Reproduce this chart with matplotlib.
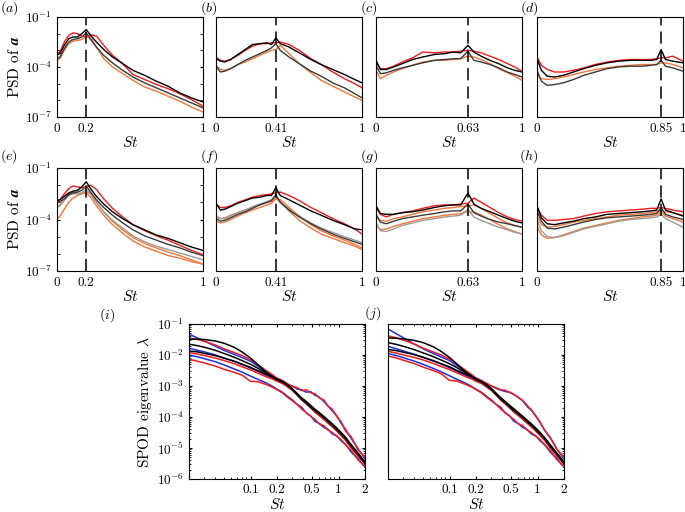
import numpy as np
import matplotlib
matplotlib.use("Agg")
import matplotlib.pyplot as plt
from matplotlib.ticker import LogLocator, FixedLocator, NullFormatter

plt.rcParams['font.family'] = 'serif'
plt.rcParams['font.serif'] = ['cmr10']
plt.rcParams['mathtext.fontset'] = 'cm'
plt.rcParams['axes.unicode_minus'] = False
plt.rcParams['axes.formatter.use_mathtext'] = True

# ---------------- data (log10 of PSD) ----------------
peaks = [0.2, 0.41, 0.63, 0.85, 0.2, 0.41, 0.63, 0.85]
letters = ['a', 'b', 'c', 'd', 'e', 'f', 'g', 'h']

st_a = [0, 0.02, 0.05, 0.08, 0.11, 0.14, 0.17, 0.2, 0.23, 0.27, 0.32, 0.38, 0.45, 0.52, 0.6, 0.68, 0.76, 0.84, 0.92, 1.0]
a_red = [-3.17, -3.1, -2.5, -2.1, -1.95, -2.0, -2.15, -2.2, -2.05, -2.15, -2.7, -3.3, -3.8, -4.45, -4.75, -5.05, -5.3, -5.6, -5.95, -6.35]
a_black = [-3.27, -3.2, -2.7, -2.3, -2.2, -2.2, -2.0, -1.75, -2.1, -2.5, -2.95, -3.4, -3.8, -4.2, -4.5, -4.85, -5.15, -5.55, -5.85, -6.1]
a_dgray = [-3.5, -3.4, -2.9, -2.5, -2.35, -2.3, -2.2, -1.95, -2.35, -2.8, -3.3, -3.75, -4.2, -4.6, -4.95, -5.25, -5.55, -5.85, -6.15, -6.45]
a_orange = [-3.6, -3.5, -3.0, -2.6, -2.45, -2.4, -2.35, -2.2, -2.2, -2.8, -3.5, -4.0, -4.4, -4.8, -5.2, -5.45, -5.75, -6.05, -6.4, -6.7]

st_b = [0, 0.03, 0.06, 0.1, 0.15, 0.2, 0.25, 0.3, 0.35, 0.38, 0.41, 0.44, 0.5, 0.57, 0.65, 0.72, 0.8, 0.88, 0.95, 1.0]
b_red = [-3.41, -3.6, -3.65, -3.55, -3.3, -3.0, -2.75, -2.6, -2.6, -2.55, -2.55, -2.5, -2.65, -3.0, -3.5, -3.85, -4.3, -4.7, -5.0, -5.25]
b_black = [-3.5, -3.65, -3.7, -3.55, -3.25, -2.95, -2.65, -2.6, -2.55, -2.65, -2.25, -2.6, -2.8, -3.15, -3.55, -3.85, -4.15, -4.45, -4.75, -4.95]
b_dgray = [-3.95, -4.3, -4.25, -4.1, -3.85, -3.6, -3.4, -3.2, -3.0, -2.85, -2.6, -3.0, -3.4, -3.8, -4.25, -4.55, -4.95, -5.25, -5.6, -5.85]
b_orange = [-3.95, -4.15, -4.2, -4.1, -3.85, -3.7, -3.5, -3.3, -3.1, -3.0, -2.95, -2.7, -3.2, -3.8, -4.35, -4.8, -5.15, -5.5, -5.8, -6.0]

st_c = [0, 0.03, 0.07, 0.12, 0.18, 0.25, 0.32, 0.4, 0.47, 0.53, 0.58, 0.63, 0.67, 0.72, 0.78, 0.84, 0.9, 0.95, 1.0]
c_red = [-3.7, -4.1, -4.1, -3.95, -3.7, -3.45, -3.1, -3.15, -3.1, -3.1, -3.05, -3.0, -3.05, -3.15, -3.35, -3.55, -3.8, -4.0, -4.25]
c_black = [-3.6, -4.15, -4.15, -4.0, -3.8, -3.55, -3.4, -3.25, -3.2, -3.1, -3.15, -2.7, -3.1, -3.35, -3.6, -3.8, -4.05, -4.2, -4.3]
c_dgray = [-3.9, -4.4, -4.35, -4.2, -4.05, -3.9, -3.75, -3.6, -3.55, -3.5, -3.5, -3.05, -3.6, -3.7, -3.85, -4.05, -4.3, -4.45, -4.6]
c_orange = [-4.2, -4.7, -4.5, -4.3, -4.1, -3.9, -3.7, -3.6, -3.6, -3.55, -3.5, -3.35, -3.4, -3.55, -3.8, -4.1, -4.35, -4.55, -4.8]

st_d = [0, 0.03, 0.07, 0.12, 0.18, 0.25, 0.32, 0.4, 0.48, 0.56, 0.64, 0.72, 0.78, 0.82, 0.85, 0.88, 0.93, 1.0]
d_red = [-3.4, -3.9, -4.15, -4.3, -4.3, -4.2, -4.05, -3.85, -3.7, -3.6, -3.55, -3.55, -3.55, -3.5, -3.45, -3.45, -3.35, -3.65]
d_black = [-3.5, -4.2, -4.55, -4.6, -4.5, -4.3, -4.1, -3.9, -3.75, -3.65, -3.6, -3.6, -3.6, -3.55, -2.95, -3.55, -3.65, -3.75]
d_dgray = [-4.2, -4.85, -5.1, -5.05, -4.95, -4.75, -4.5, -4.3, -4.1, -4.0, -3.95, -3.95, -3.9, -3.85, -3.6, -3.95, -4.05, -4.25]
d_orange = [-4.5, -4.7, -4.75, -4.7, -4.6, -4.45, -4.3, -4.15, -4.05, -3.95, -3.9, -3.85, -3.85, -3.85, -3.75, -3.75, -3.85, -4.05]

e_red = [-2.92, -2.85, -2.5, -2.2, -2.05, -2.1, -2.15, -2.1, -2.0, -2.25, -2.8, -3.35, -3.85, -4.3, -4.65, -4.95, -5.2, -5.5, -5.8, -6.05]
e_black = [-2.88, -2.85, -2.65, -2.45, -2.35, -2.3, -2.1, -1.8, -2.2, -2.65, -3.1, -3.55, -3.95, -4.3, -4.6, -4.9, -5.1, -5.35, -5.6, -5.8]
e_dgray = [-3.0, -2.95, -2.8, -2.55, -2.45, -2.4, -2.3, -2.05, -2.4, -2.85, -3.3, -3.75, -4.2, -4.6, -4.95, -5.2, -5.45, -5.65, -5.9, -6.1]
e_gray = [-3.3, -3.2, -2.9, -2.6, -2.5, -2.5, -2.45, -2.25, -2.5, -3.0, -3.55, -4.05, -4.5, -4.95, -5.3, -5.55, -5.75, -5.95, -6.15, -6.35]
e_orange1 = [-3.3, -3.15, -2.8, -2.5, -2.4, -2.45, -2.5, -2.4, -2.5, -3.0, -3.55, -4.1, -4.6, -5.05, -5.4, -5.65, -5.9, -6.1, -6.35, -6.6]
e_orange2 = [-3.97, -3.8, -3.4, -3.0, -2.75, -2.6, -2.5, -2.45, -2.7, -3.2, -3.75, -4.3, -4.8, -5.25, -5.6, -5.85, -6.1, -6.25, -6.45, -6.6]

f_red = [-3.13, -3.3, -3.3, -3.2, -3.0, -2.85, -2.7, -2.6, -2.55, -2.5, -2.45, -2.4, -2.6, -2.9, -3.3, -3.6, -3.95, -4.25, -4.55, -4.85]
f_black = [-3.05, -3.45, -3.4, -3.25, -3.05, -2.9, -2.75, -2.7, -2.6, -2.6, -2.15, -2.6, -2.85, -3.15, -3.5, -3.75, -4.05, -4.3, -4.55, -4.6]
f_dgray = [-3.95, -4.1, -4.05, -3.9, -3.7, -3.55, -3.35, -3.15, -3.0, -2.9, -2.55, -3.0, -3.45, -3.85, -4.25, -4.55, -4.85, -5.1, -5.3, -5.45]
f_gray = [-3.85, -3.95, -3.95, -3.8, -3.6, -3.45, -3.25, -3.1, -2.95, -2.85, -2.65, -3.0, -3.4, -3.8, -4.2, -4.5, -4.75, -5.0, -5.2, -5.35]
f_orange1 = [-3.8, -3.95, -3.9, -3.75, -3.6, -3.45, -3.3, -3.15, -3.0, -2.95, -2.75, -2.85, -3.3, -3.8, -4.3, -4.65, -4.95, -5.2, -5.45, -5.65]
f_orange2 = [-4.1, -4.2, -4.15, -4.0, -3.8, -3.6, -3.45, -3.3, -3.15, -3.05, -2.8, -2.95, -3.5, -4.05, -4.5, -4.85, -5.1, -5.35, -5.55, -5.75]

g_red = [-3.3, -3.7, -3.85, -3.7, -3.6, -3.5, -3.35, -3.2, -3.15, -3.15, -3.1, -3.05, -2.75, -3.0, -3.3, -3.6, -3.85, -4.0, -4.1]
g_black = [-3.2, -3.65, -3.7, -3.7, -3.6, -3.55, -3.45, -3.3, -3.2, -3.15, -3.15, -2.45, -3.1, -3.35, -3.55, -3.75, -3.95, -4.1, -4.2]
g_dgray = [-3.7, -4.15, -4.25, -4.1, -3.95, -3.85, -3.75, -3.65, -3.55, -3.5, -3.5, -3.1, -3.6, -3.8, -4.0, -4.15, -4.25, -4.35, -4.45]
g_gray = [-4.2, -4.65, -4.7, -4.55, -4.35, -4.2, -4.05, -3.95, -3.85, -3.8, -3.75, -3.4, -3.85, -4.05, -4.25, -4.45, -4.6, -4.75, -4.85]
g_orange1 = [-3.8, -4.05, -4.1, -3.95, -3.85, -3.7, -3.55, -3.45, -3.35, -3.3, -3.25, -3.2, -3.15, -3.35, -3.65, -3.95, -4.2, -4.35, -4.45]
g_orange2 = [-4.3, -4.6, -4.55, -4.4, -4.25, -4.1, -3.95, -3.85, -3.75, -3.7, -3.65, -3.55, -3.55, -3.75, -4.0, -4.3, -4.55, -4.7, -4.85]

h_red = [-3.3, -3.75, -4.05, -4.05, -4.0, -3.95, -3.8, -3.65, -3.55, -3.5, -3.45, -3.4, -3.35, -3.35, -3.3, -3.35, -3.45, -3.55]
h_black = [-3.2, -3.9, -4.25, -4.3, -4.2, -4.1, -3.95, -3.85, -3.7, -3.65, -3.6, -3.55, -3.5, -3.45, -2.8, -3.45, -3.6, -3.8]
h_dgray = [-3.5, -4.1, -4.5, -4.55, -4.45, -4.3, -4.15, -4.0, -3.9, -3.85, -3.8, -3.75, -3.7, -3.65, -3.3, -3.7, -3.85, -4.0]
h_gray = [-4.0, -4.65, -5.0, -5.05, -4.95, -4.75, -4.55, -4.4, -4.25, -4.1, -4.0, -3.95, -3.9, -3.85, -3.7, -3.95, -4.15, -4.45]
h_orange1 = [-3.8, -4.3, -4.45, -4.4, -4.3, -4.15, -4.05, -3.95, -3.85, -3.75, -3.7, -3.65, -3.6, -3.55, -3.5, -3.55, -3.6, -3.75]
h_orange2 = [-4.4, -4.9, -5.1, -5.05, -4.9, -4.7, -4.5, -4.35, -4.2, -4.05, -3.95, -3.85, -3.8, -3.75, -3.55, -3.8, -3.95, -4.15]

# ---------------- SPOD eigenvalues (log10) ----------------
st_s = [0.02, 0.025, 0.03, 0.04, 0.05, 0.065, 0.08, 0.1, 0.12, 0.15, 0.18, 0.2, 0.23, 0.26, 0.3,
        0.34, 0.38, 0.43, 0.48, 0.54, 0.6, 0.68, 0.76, 0.85, 0.95, 1.07, 1.2, 1.4, 1.65, 2.0]
i_blue1 = [-1.33, -1.45, -1.55, -1.72, -1.85, -1.98, -2.08, -2.2, -2.35, -2.55, -2.7, -2.78, -2.85, -2.95, -3.0,
           -3.1, -3.12, -3.2, -3.18, -3.3, -3.35, -3.5, -3.65, -3.8, -3.95, -4.2, -4.4, -4.7, -5.0, -5.35]
i_red1 = [-1.45, -1.5, -1.56, -1.68, -1.8, -1.92, -2.02, -2.15, -2.3, -2.5, -2.65, -2.75, -2.82, -2.92, -3.02,
          -3.05, -3.15, -3.12, -3.22, -3.25, -3.38, -3.45, -3.65, -3.75, -3.98, -4.15, -4.45, -4.65, -5.05, -5.3]
i_black1 = [-1.49, -1.49, -1.5, -1.55, -1.62, -1.75, -1.9, -2.1, -2.3, -2.55, -2.72, -2.8, -2.88, -2.95, -3.1,
            -3.25, -3.38, -3.5, -3.62, -3.75, -3.85, -3.98, -4.1, -4.22, -4.35, -4.5, -4.65, -4.9, -5.15, -5.45]
i_black2 = [-1.65, -1.7, -1.75, -1.85, -1.95, -2.07, -2.18, -2.3, -2.42, -2.58, -2.7, -2.78, -2.85, -2.95, -3.1,
            -3.25, -3.4, -3.52, -3.65, -3.78, -3.88, -4.0, -4.12, -4.25, -4.38, -4.52, -4.68, -4.92, -5.18, -5.48]
i_black3 = [-1.87, -1.9, -1.95, -2.02, -2.1, -2.2, -2.3, -2.4, -2.5, -2.62, -2.72, -2.78, -2.85, -2.97, -3.12,
            -3.28, -3.42, -3.55, -3.68, -3.8, -3.9, -4.02, -4.15, -4.27, -4.4, -4.55, -4.7, -4.95, -5.2, -5.5]
i_blue2 = [-1.78, -1.85, -1.9, -2.0, -2.1, -2.2, -2.3, -2.42, -2.52, -2.65, -2.75, -2.82, -2.9, -3.0, -3.12,
           -3.28, -3.42, -3.55, -3.68, -3.82, -3.92, -4.05, -4.18, -4.3, -4.42, -4.58, -4.72, -4.98, -5.22, -5.52]
i_red2 = [-1.92, -1.97, -2.02, -2.1, -2.18, -2.28, -2.38, -2.48, -2.58, -2.7, -2.78, -2.85, -2.92, -3.02, -3.15,
          -3.3, -3.45, -3.58, -3.7, -3.85, -3.95, -4.08, -4.2, -4.32, -4.45, -4.6, -4.75, -5.0, -5.25, -5.5]
i_blue3 = [-2.0, -2.06, -2.12, -2.22, -2.32, -2.45, -2.55, -2.68, -2.78, -2.9, -3.02, -3.1, -3.2, -3.32, -3.45,
           -3.6, -3.68, -3.87, -3.96, -4.14, -4.2, -4.34, -4.4, -4.55, -4.6, -4.77, -4.88, -5.14, -5.33, -5.62]
i_red3 = [-2.14, -2.2, -2.26, -2.36, -2.46, -2.56, -2.65, -2.85, -2.86, -2.95, -3.05, -3.12, -3.22, -3.35, -3.48,
          -3.6, -3.74, -3.86, -3.97, -4.08, -4.22, -4.28, -4.42, -4.5, -4.62, -4.73, -4.9, -5.08, -5.37, -5.6]

j_blue1 = [-1.16, -1.32, -1.45, -1.65, -1.8, -1.95, -2.06, -2.18, -2.33, -2.53, -2.68, -2.77, -2.84, -2.94, -3.0,
           -3.08, -3.13, -3.18, -3.2, -3.28, -3.36, -3.48, -3.66, -3.78, -3.96, -4.18, -4.42, -4.68, -5.02, -5.35]
j_red1 = [-1.38, -1.45, -1.52, -1.65, -1.78, -1.9, -2.0, -2.13, -2.28, -2.48, -2.64, -2.74, -2.82, -2.9, -3.0,
          -3.06, -3.12, -3.14, -3.2, -3.27, -3.36, -3.47, -3.62, -3.77, -3.95, -4.17, -4.42, -4.67, -5.03, -5.3]
j_black1 = [-1.45, -1.46, -1.48, -1.53, -1.6, -1.73, -1.88, -2.08, -2.28, -2.53, -2.7, -2.79, -2.87, -2.95, -3.08,
            -3.24, -3.37, -3.5, -3.62, -3.74, -3.85, -3.98, -4.1, -4.22, -4.35, -4.5, -4.66, -4.9, -5.15, -5.45]
j_black2 = [-1.6, -1.66, -1.72, -1.83, -1.93, -2.05, -2.16, -2.28, -2.4, -2.56, -2.69, -2.77, -2.85, -2.95, -3.1,
            -3.25, -3.4, -3.52, -3.65, -3.78, -3.88, -4.0, -4.12, -4.25, -4.38, -4.52, -4.68, -4.92, -5.18, -5.48]
j_black3 = [-1.82, -1.86, -1.91, -1.99, -2.07, -2.18, -2.28, -2.38, -2.49, -2.61, -2.71, -2.78, -2.86, -2.98, -3.12,
            -3.28, -3.42, -3.55, -3.68, -3.8, -3.9, -4.02, -4.15, -4.27, -4.4, -4.55, -4.7, -4.95, -5.2, -5.5]
j_blue2 = [-1.72, -1.8, -1.87, -1.98, -2.08, -2.19, -2.29, -2.41, -2.52, -2.65, -2.75, -2.82, -2.9, -3.0, -3.12,
           -3.28, -3.42, -3.55, -3.68, -3.82, -3.92, -4.05, -4.18, -4.3, -4.42, -4.58, -4.72, -4.98, -5.22, -5.52]
j_red2 = [-1.88, -1.94, -2.0, -2.08, -2.16, -2.27, -2.37, -2.47, -2.57, -2.69, -2.78, -2.85, -2.92, -3.02, -3.15,
          -3.3, -3.45, -3.58, -3.7, -3.85, -3.95, -4.08, -4.2, -4.32, -4.45, -4.6, -4.75, -5.0, -5.25, -5.5]
j_blue3 = [-1.95, -2.02, -2.09, -2.2, -2.3, -2.43, -2.54, -2.67, -2.78, -2.9, -3.02, -3.1, -3.2, -3.32, -3.45,
           -3.6, -3.68, -3.87, -3.96, -4.14, -4.2, -4.34, -4.4, -4.55, -4.6, -4.77, -4.88, -5.14, -5.33, -5.62]
j_red3 = [-2.03, -2.1, -2.17, -2.28, -2.39, -2.5, -2.6, -2.82, -2.84, -2.94, -3.04, -3.12, -3.22, -3.35, -3.48,
          -3.6, -3.74, -3.86, -3.97, -4.08, -4.22, -4.28, -4.42, -4.5, -4.62, -4.73, -4.9, -5.08, -5.37, -5.6]

RED = '#f21c1c'
BLACK = '#000000'
DGRAY = '#3a3a3a'
GRAY = '#9a9a9a'
ORANGE = '#f5773a'
BLUE = '#1f2ff0'

top_sets = [
    (st_a, [(a_orange, ORANGE), (a_dgray, DGRAY), (a_red, RED), (a_black, BLACK)]),
    (st_b, [(b_orange, ORANGE), (b_dgray, DGRAY), (b_red, RED), (b_black, BLACK)]),
    (st_c, [(c_orange, ORANGE), (c_dgray, DGRAY), (c_red, RED), (c_black, BLACK)]),
    (st_d, [(d_orange, ORANGE), (d_dgray, DGRAY), (d_red, RED), (d_black, BLACK)]),
    (st_a, [(e_orange2, ORANGE), (e_orange1, ORANGE), (e_gray, GRAY), (e_dgray, DGRAY), (e_red, RED), (e_black, BLACK)]),
    (st_b, [(f_orange2, ORANGE), (f_orange1, ORANGE), (f_gray, GRAY), (f_dgray, DGRAY), (f_red, RED), (f_black, BLACK)]),
    (st_c, [(g_orange2, ORANGE), (g_orange1, ORANGE), (g_gray, GRAY), (g_dgray, DGRAY), (g_red, RED), (g_black, BLACK)]),
    (st_d, [(h_orange2, ORANGE), (h_orange1, ORANGE), (h_gray, GRAY), (h_dgray, DGRAY), (h_red, RED), (h_black, BLACK)]),
]

W, H = 685, 512
fig = plt.figure(figsize=(W / 100, H / 100), dpi=100)

def box(x0, y0, x1, y1):
    return [x0 / W, 1 - y1 / H, (x1 - x0) / W, (y1 - y0) / H]

def label_at(px, py, s):
    fig.text(px / W, 1 - py / H, s, fontsize=10, ha='center', va='center')

lefts = [57, 216, 376, 537]
rows = [(17, 117), (168, 271)]
letter_x = [9, 209, 369, 529]
letter_y = [8, 156]
FS = 9.5

for k in range(8):
    r, c = divmod(k, 4)
    ax = fig.add_axes(box(lefts[c], rows[r][0], lefts[c] + 146, rows[r][1]))
    st, lines = top_sets[k]
    for vals, col in lines:
        ax.plot(st, 10.0 ** np.array(vals), color=col, lw=1.0)
    ax.axvline(peaks[k], color='black', lw=1.1, dashes=(8, 4))
    ax.set_yscale('log')
    ax.set_xlim(0, 1)
    ax.set_ylim(1e-7, 1e-1)
    ax.set_xticks([0, peaks[k], 1])
    ax.set_xticklabels(['0', '%g' % peaks[k], '1'], fontsize=FS)
    ax.tick_params(axis='x', length=0, pad=4)
    if c == 0:
        ax.yaxis.set_major_locator(FixedLocator([1e-7, 1e-4, 1e-1]))
        ax.yaxis.set_minor_locator(FixedLocator([1e-6, 1e-5, 1e-3, 1e-2]))
        ax.yaxis.set_minor_formatter(NullFormatter())
        ax.tick_params(axis='y', which='both', direction='in', right=True, length=2.5, labelsize=FS)
        ax.set_ylabel(r'PSD of $\mathbfit{a}$', fontsize=11, labelpad=2)
    else:
        ax.set_yticks([])
        ax.yaxis.set_minor_locator(FixedLocator([]))
    ax.set_xlabel(r'$St$', fontsize=11, labelpad=0)
    label_at(letter_x[c], letter_y[r], r'$(%s)$' % letters[k])

bottom_sets = [
    [(i_blue1, BLUE), (i_blue2, BLUE), (i_blue3, BLUE), (i_red1, RED), (i_red2, RED), (i_red3, RED),
     (i_black1, BLACK), (i_black2, BLACK), (i_black3, BLACK)],
    [(j_blue1, BLUE), (j_blue2, BLUE), (j_blue3, BLUE), (j_red1, RED), (j_red2, RED), (j_red3, RED),
     (j_black1, BLACK), (j_black2, BLACK), (j_black3, BLACK)],
]
blefts = [189, 388]
for k in range(2):
    ax = fig.add_axes(box(blefts[k], 324, blefts[k] + 176, 479))
    for vals, col in bottom_sets[k]:
        ax.plot(st_s, 10.0 ** np.array(vals), color=col, lw=1.1)
    ax.set_xscale('log')
    ax.set_yscale('log')
    ax.set_xlim(0.02, 2)
    ax.set_ylim(1e-6, 1e-1)
    ax.set_xticks([0.1, 0.2, 0.5, 1, 2])
    ax.set_xticklabels(['0.1', '0.2', '0.5', '1', '2'], fontsize=FS)
    ax.xaxis.set_minor_locator(LogLocator(base=10, subs=np.arange(2, 10)))
    ax.xaxis.set_minor_formatter(NullFormatter())
    ax.tick_params(axis='x', which='both', direction='in', top=True, length=2.5)
    ax.tick_params(axis='x', which='minor', length=1.5)
    ax.yaxis.set_minor_locator(LogLocator(base=10, subs=np.arange(2, 10)))
    ax.yaxis.set_minor_formatter(NullFormatter())
    ax.tick_params(axis='y', which='both', direction='in', right=True, left=True, length=2.5, labelsize=FS)
    ax.tick_params(axis='y', which='minor', length=1.5)
    if k == 0:
        ax.set_ylabel(r'SPOD eigenvalue $\lambda$', fontsize=11, labelpad=2)
    else:
        ax.set_yticklabels([])
        ax.tick_params(axis='y', which='both', left=False)
    ax.set_xlabel(r'$St$', fontsize=11, labelpad=1)
label_at(107, 315, r'$(i)$')
label_at(373, 313, r'$(j)$')

fig.savefig('out.png', dpi=100)
